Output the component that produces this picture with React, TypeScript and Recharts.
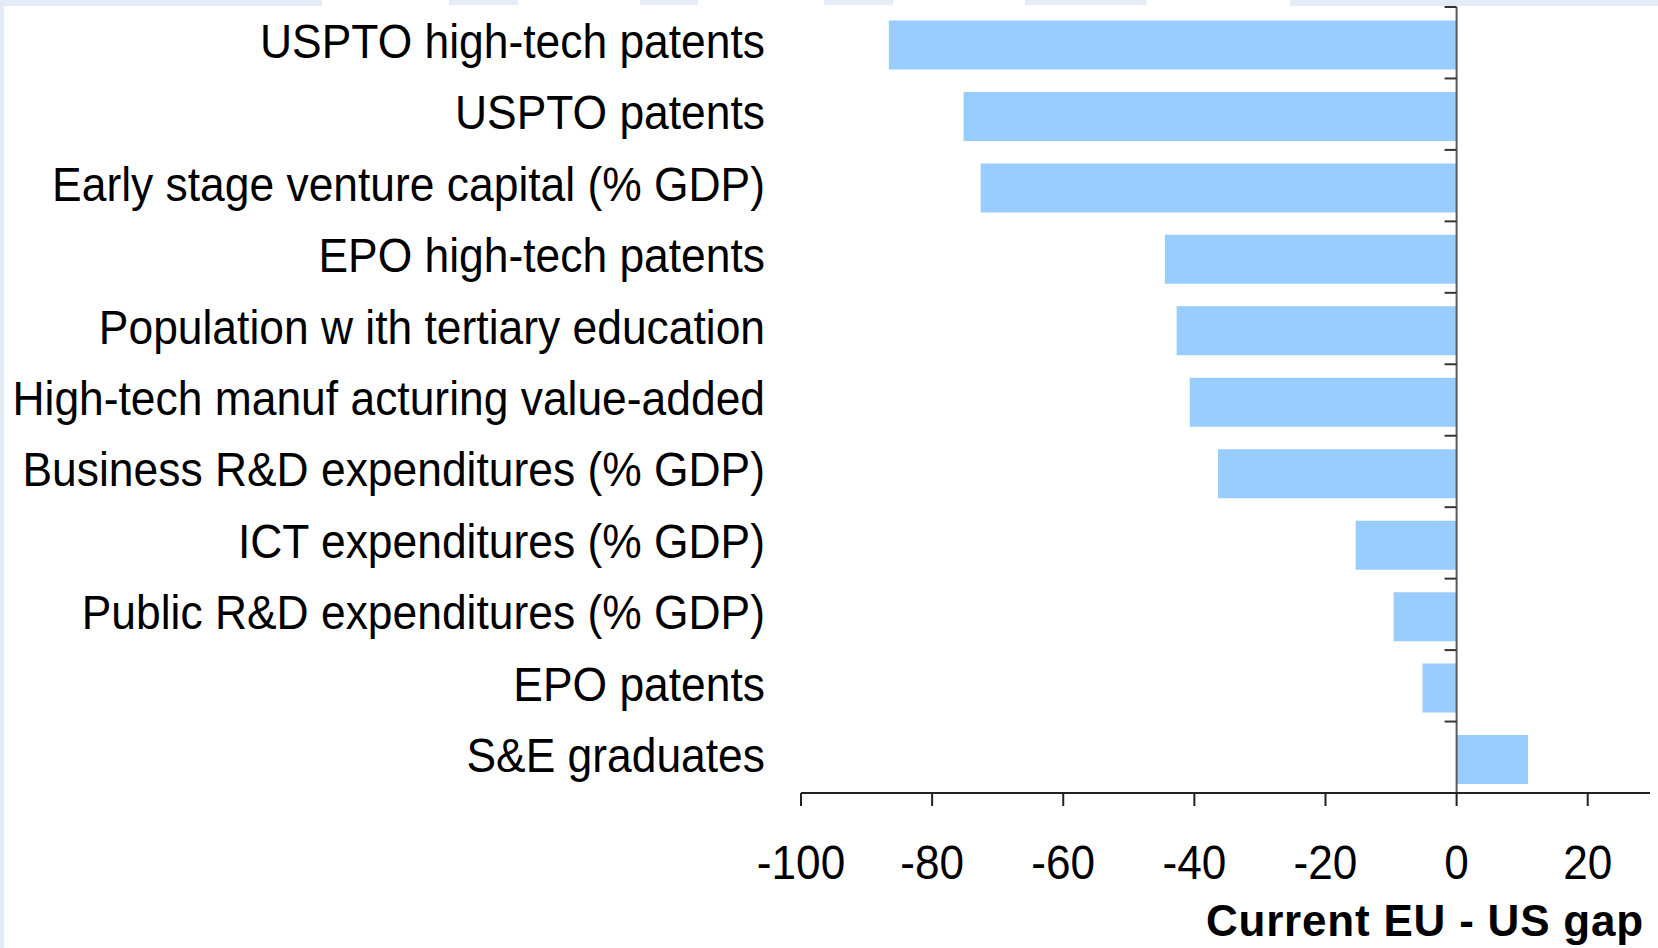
import React from 'react';
import { BarChart, Bar, XAxis, YAxis, ReferenceLine, Rectangle } from 'recharts';

const categories = [
  'USPTO high-tech patents',
  'USPTO patents',
  'Early stage venture capital (% GDP)',
  'EPO high-tech patents',
  'Population w ith tertiary education',
  'High-tech manuf acturing value-added',
  'Business R&D expenditures (% GDP)',
  'ICT expenditures (% GDP)',
  'Public R&D expenditures (% GDP)',
  'EPO patents',
  'S&E graduates',
];

const gapValues = [-86.6, -75.2, -72.6, -44.5, -42.7, -40.7, -36.4, -15.4, -9.6, -5.2, 10.9];

const xTicks = [-100, -80, -60, -40, -20, 0, 20];
const xDomain = [-100, 29.5];
const axisTitle = 'Current EU - US gap';

const data = categories.map((name, i) => ({ name, gap: gapValues[i] }));

const FONT = "'Liberation Sans', Arial, Helvetica, sans-serif";

const CategoryTick = (props: any) => {
  const { x, y, payload } = props;
  return (
    <text
      transform={`translate(${x - 36},${y + 15}) scale(0.925,1)`}
      textAnchor="end"
      fontFamily={FONT}
      fontSize={48}
      fill="#000"
    >
      {payload.value}
    </text>
  );
};

const ValueTick = (props: any) => {
  const { x, y, payload } = props;
  return (
    <text
      transform={`translate(${x},${y + 71}) scale(0.92,1)`}
      textAnchor="middle"
      fontFamily={FONT}
      fontSize={48}
      fill="#000"
    >
      {payload.value}
    </text>
  );
};

const TitleLabel = (props: any) => {
  const vb = props.viewBox || {};
  const right = (vb.x || 0) + (vb.width || 0) - 6;
  const base = (vb.y || 0) + 143;
  return (
    <text
      x={right}
      y={base}
      textAnchor="end"
      fontFamily={FONT}
      fontSize={44}
      fontWeight="bold"
      letterSpacing={0.8}
      fill="#000"
    >
      {axisTitle}
    </text>
  );
};

const ZeroAxis = (props: any) => {
  const { x1, y1, x2, y2 } = props;
  const top = Math.min(y1, y2);
  const bottom = Math.max(y1, y2);
  const n = categories.length;
  const step = (bottom - top) / n;
  const marks = [];
  for (let i = 0; i <= n; i++) {
    const yy = top + i * step;
    marks.push(
      <line key={i} x1={x1 - 12} x2={x1} y1={yy} y2={yy} stroke="#333" strokeWidth={2} />
    );
  }
  return (
    <g>
      <line x1={x1} x2={x2} y1={top} y2={bottom} stroke="#5a5a5a" strokeWidth={2} />
      {marks}
    </g>
  );
};

const ShiftedBar = (props: any) => <Rectangle {...props} y={props.y + 2.5} />;

export default function App() {
  return (
    <div style={{ position: 'absolute', left: 0, top: 0, width: 1658, height: 948, background: '#fff' }}>
      <div style={{ position: 'absolute', left: 0, top: 0, width: 4, height: 948, background: '#e3ebf6' }} />
      <div style={{ position: 'absolute', left: 0, top: 0, width: 322, height: 6, background: '#e3ebf6' }} />
      <div style={{ position: 'absolute', left: 449, top: 0, width: 69, height: 5, background: '#e6edf7' }} />
      <div style={{ position: 'absolute', left: 640, top: 0, width: 58, height: 5, background: '#e6edf7' }} />
      <div style={{ position: 'absolute', left: 824, top: 0, width: 69, height: 5, background: '#e6edf7' }} />
      <div style={{ position: 'absolute', left: 1025, top: 0, width: 122, height: 5, background: '#e6edf7' }} />
      <div style={{ position: 'absolute', left: 1290, top: 0, width: 368, height: 6, background: '#e3ebf6' }} />
      <div style={{ position: 'absolute', left: 0, top: 0 }}>
        <BarChart
          width={1658}
          height={948}
          data={data}
          layout="vertical"
          margin={{ top: 7, right: 8, bottom: 0, left: 0 }}
          barSize={49}
        >
          <XAxis
            type="number"
            domain={xDomain}
            ticks={xTicks}
            allowDataOverflow
            height={155}
            tickSize={13}
            tickMargin={2}
            axisLine={{ stroke: '#222', strokeWidth: 2 }}
            tickLine={{ stroke: '#222', strokeWidth: 2 }}
            tick={<ValueTick />}
            interval={0}
            label={{ value: axisTitle, content: (p: any) => <TitleLabel {...p} /> }}
          />
          <YAxis
            type="category"
            dataKey="name"
            width={801}
            axisLine={false}
            tickLine={false}
            tickSize={0}
            tickMargin={0}
            interval={0}
            tick={<CategoryTick />}
          />
          <Bar dataKey="gap" fill="#99CCFF" isAnimationActive={false} shape={(p: any) => <ShiftedBar {...p} />} />
          <ReferenceLine x={0} shape={(p: any) => <ZeroAxis {...p} />} />
        </BarChart>
      </div>
    </div>
  );
}
